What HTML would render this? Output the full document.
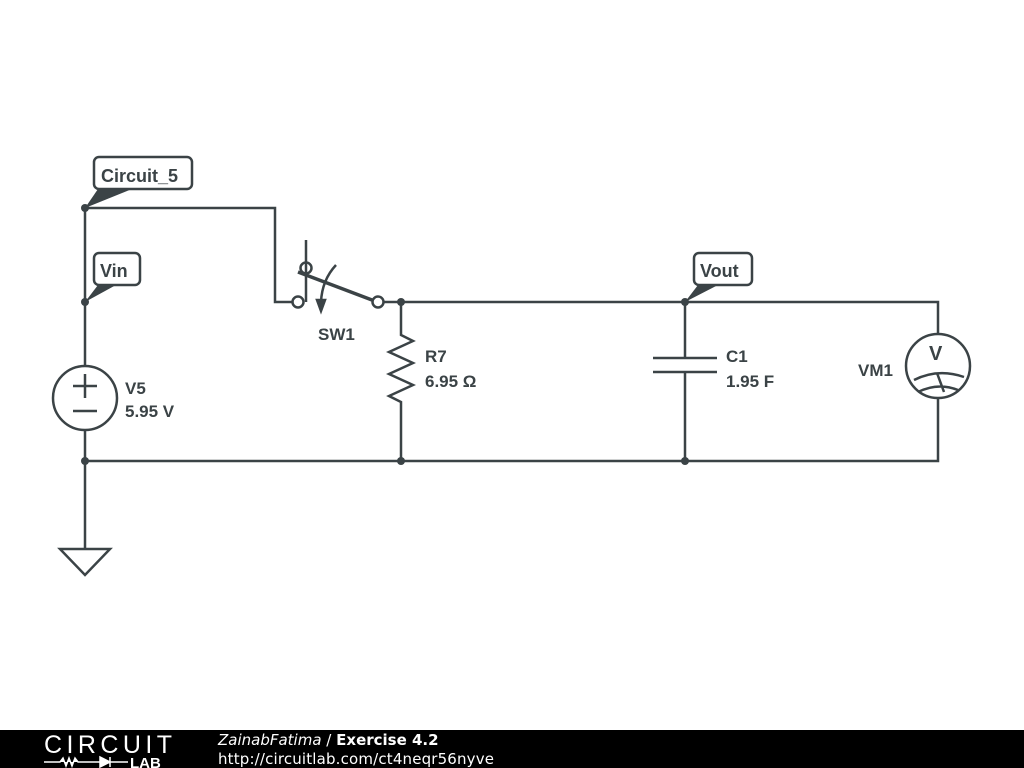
<!DOCTYPE html>
<html><head><style>
html,body{margin:0;padding:0;background:#fff;width:1024px;height:768px;overflow:hidden}
svg{display:block}
text{font-family:"Liberation Sans",sans-serif;font-weight:bold;fill:#3b4346}
</style></head><body>
<svg width="1024" height="768" viewBox="0 0 1024 768">
<g stroke="#3b4346" stroke-width="2.5" fill="none">
<path d="M85 208V366M85 430V549"/>
<path d="M60 549H110L85 575Z"/>
<circle cx="85" cy="398" r="32"/>
<path d="M73 386H97M85 374V398M73 411H97"/>
<path d="M85 208H275V302H293"/>
<circle cx="298" cy="302" r="5.5" fill="#fff"/>
<circle cx="378" cy="302" r="5.5" fill="#fff"/>
<path d="M306 240V302"/>
<circle cx="306" cy="268" r="5.5"/>
<path d="M298 272L372 300" stroke-width="3.5"/>
<path d="M336 265Q322 280 321 302"/>
<path d="M317 300L321 311L325 300Z" fill="#3b4346"/>
<path d="M383 302H938V334M938 398V461H85"/>
<path d="M401 302V335L413 341L389 352L413 363L389 374L413 385L389 396L401 402V461"/>
<path d="M685 302V358M685 372V461M653 358H717M653 372H717"/>
<circle cx="938" cy="366" r="32"/>
<path d="M914 380Q938 368 964 377M918 392Q938 382 958 390M937 373L944 392"/>
<rect x="94" y="157" width="98" height="32" rx="5" fill="#fff"/>
<rect x="94" y="253" width="46" height="32" rx="5" fill="#fff"/>
<rect x="694" y="253" width="58" height="32" rx="5" fill="#fff"/>
</g>
<g fill="#3b4346">
<path d="M85 208L98 189H132Z"/>
<path d="M85 302L98 285H116Z"/>
<path d="M685 302L698 285H718Z"/>
<circle cx="85" cy="208" r="4"/><circle cx="85" cy="302" r="4"/>
<circle cx="401" cy="302" r="4"/><circle cx="685" cy="302" r="4"/>
<circle cx="85" cy="461" r="4"/><circle cx="401" cy="461" r="4"/><circle cx="685" cy="461" r="4"/>
</g>
<text x="101" y="182" font-size="18">Circuit_5</text>
<text x="100" y="277" font-size="18">Vin</text>
<text x="700" y="277" font-size="18">Vout</text>
<text x="125" y="394" font-size="17">V5</text>
<text x="125" y="417" font-size="17">5.95 V</text>
<text x="318" y="340" font-size="17">SW1</text>
<text x="425" y="362" font-size="17">R7</text>
<text x="425" y="387" font-size="17">6.95 Ω</text>
<text x="726" y="362" font-size="17">C1</text>
<text x="726" y="387" font-size="17">1.95 F</text>
<text x="858" y="376" font-size="17">VM1</text>
<text x="929" y="360" font-size="20">V</text>
<rect x="0" y="730" width="1024" height="38" fill="#000"/>
<text x="44" y="753" font-size="25" style="font-weight:normal;fill:#fff" textLength="128">CIRCUIT</text>
<path d="M44 762H60L63 758L66 766L69 758L72 766L75 758L78 762H100M100 757V767L110 762ZM110 757V767M110 762H128" stroke="#fff" stroke-width="1.5" fill="#fff"/>
<text x="130" y="768" font-size="15" style="fill:#fff">LAB</text>
<text x="218" y="745" font-size="15" style="font-weight:normal;font-style:italic;fill:#fff;font-family:'DejaVu Sans',sans-serif">ZainabFatima <tspan font-style="normal">/</tspan> <tspan font-weight="bold" font-style="normal">Exercise 4.2</tspan></text>
<text x="218" y="764" font-size="15" style="font-weight:normal;fill:#fff;font-family:'DejaVu Sans',sans-serif" textLength="276">http://circuitlab.com/ct4neqr56nyve</text>
</svg>
</body></html>
